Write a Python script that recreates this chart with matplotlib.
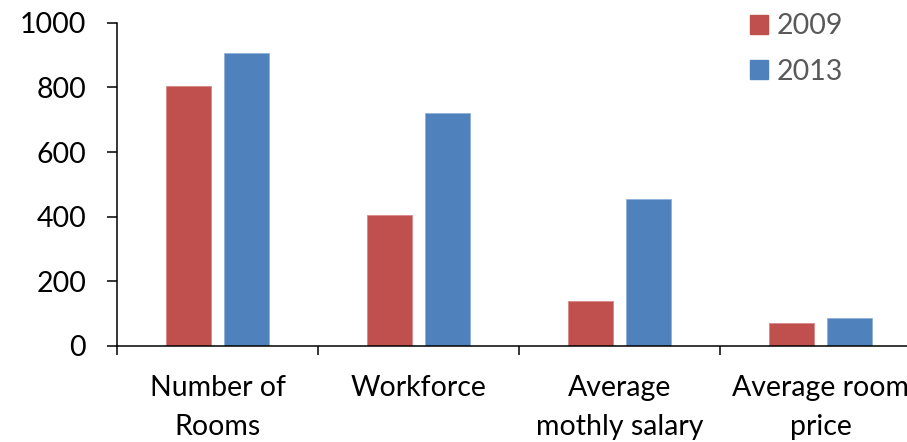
import numpy as np
import matplotlib.pyplot as plt
from matplotlib.patches import Patch

categories = ["Number of\nRooms", "Workforce", "Average\nmothly salary", "Average room\nprice"]
years = ["2009", "2013"]
values_2009 = [805, 405, 140, 70]
values_2013 = [905, 720, 455, 87]
colors = ["#C0504D", "#4F81BD"]

plt.rcParams['font.family'] = ['Lato', 'DejaVu Sans']

fig = plt.figure(figsize=(9.07, 4.42), dpi=100)
ax = fig.add_axes([117/907, 1 - 346/442, (921 - 117)/907, (346 - 22.7)/442])

x = np.arange(len(categories))
w = 0.225
off = 0.143
ax.bar(x - off, values_2009, w, color=colors[0], edgecolor="#D98886", linewidth=0.6)
ax.bar(x + off, values_2013, w, color=colors[1], edgecolor="#8FB0D8", linewidth=0.6)

ax.set_xlim(-0.5, len(categories) - 0.5)
ax.set_ylim(0, 1000)
ax.set_yticks(np.arange(0, 1001, 200))

ax.set_xticks(np.arange(-0.5, len(categories), 1.0))
ax.set_xticklabels([])
ax.set_xticks(x, minor=True)
ax.set_xticklabels(categories, minor=True, fontsize=20.5, linespacing=1.62)
ax.tick_params(axis="x", which="minor", length=0, pad=21)
ax.tick_params(axis="x", which="major", direction="out", length=6.5, width=1.1)
ax.tick_params(axis="y", direction="out", length=7.2, width=1.1, labelsize=20.5, pad=15)

for s in ["top", "right"]:
    ax.spines[s].set_visible(False)
for s in ["left", "bottom"]:
    ax.spines[s].set_linewidth(1.1)

handles = [Patch(color=c) for c in colors]
leg = fig.legend(handles, years, loc="upper left", bbox_to_anchor=(739/907, 1 - 2/442),
                 frameon=False, fontsize=20.5, handlelength=0.63, handleheight=0.63,
                 handletextpad=0.3, labelspacing=0.68, borderaxespad=0)
for t in leg.get_texts():
    t.set_color("#595959")

fig.savefig("out.png", dpi=100)
